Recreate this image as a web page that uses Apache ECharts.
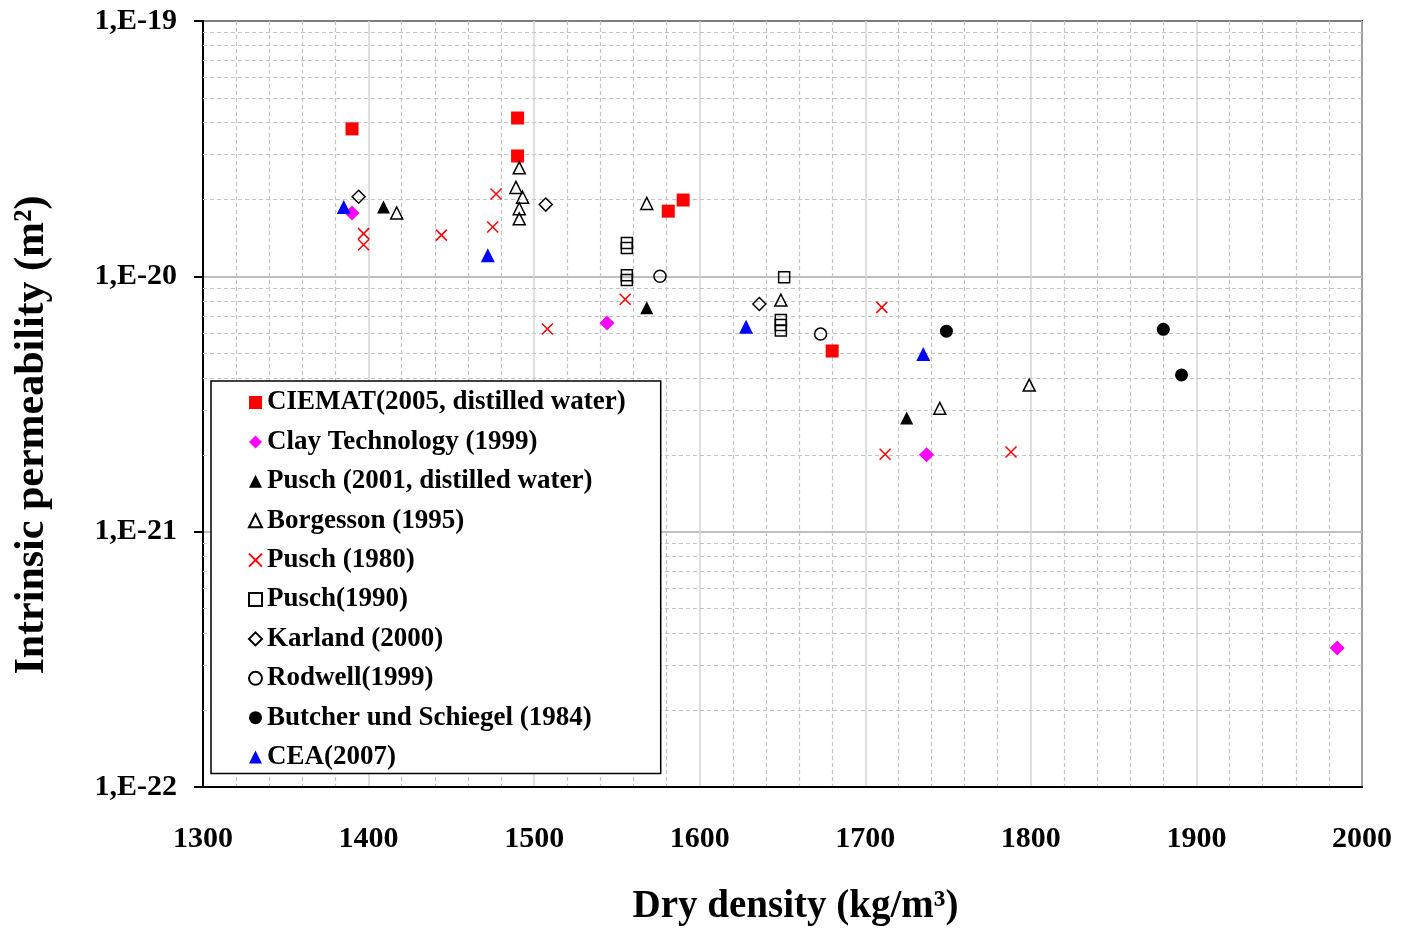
<!DOCTYPE html>
<html>
<head>
<meta charset="utf-8">
<script src="https://cdn.jsdelivr.net/npm/echarts@6/dist/echarts.min.js"></script>
<style>
html,body{margin:0;padding:0;background:#fff;}
#chart{width:1410px;height:929px;}
</style>
</head>
<body>
<div id="chart"></div>
<script>
// ---- Data: dry density (kg/m3), intrinsic permeability (m2) ----
const seriesNames = [
  'CIEMAT(2005, distilled water)',
  'Clay Technology (1999)',
  'Pusch (2001, distilled water)',
  'Borgesson (1995)',
  'Pusch (1980)',
  'Pusch(1990)',
  'Karland (2000)',
  'Rodwell(1999)',
  'Butcher und Schiegel (1984)',
  'CEA(2007)'
];
const ciematData = [[1390, 3.78e-20], [1490, 4.17e-20], [1490, 2.96e-20], [1581, 1.80e-20], [1590, 1.99e-20], [1680, 5.10e-21]];
const clayTechData = [[1390, 1.77e-20], [1544, 6.56e-21], [1737, 2.00e-21], [1985, 3.50e-22]];
const pusch2001Data = [[1409, 1.87e-20], [1568, 7.53e-21], [1725, 2.79e-21]];
const borgessonData = [[1417, 1.77e-20], [1491, 2.66e-20], [1489, 2.23e-20], [1493, 2.04e-20], [1491, 1.84e-20], [1491, 1.68e-20], [1568, 1.93e-20], [1649, 8.07e-21], [1799, 3.75e-21], [1745, 3.04e-21]];
const pusch1980Data = [[1477, 2.10e-20], [1475, 1.56e-20], [1444, 1.45e-20], [1397, 1.47e-20], [1397, 1.33e-20], [1508, 6.22e-21], [1555, 8.13e-21], [1710, 7.56e-21], [1712, 2.01e-21], [1788, 2.05e-21]];
const pusch1990Data = [[1556, 1.35e-20], [1556, 1.29e-20], [1556, 1.01e-20], [1556, 9.67e-21], [1651, 9.91e-21], [1649, 6.74e-21], [1649, 6.45e-21], [1649, 6.14e-21]];
const karlandData = [[1394, 2.05e-20], [1507, 1.91e-20], [1636, 7.79e-21]];
const rodwellData = [[1576, 1.00e-20], [1673, 5.94e-21]];
const butcherData = [[1749, 6.10e-21], [1880, 6.20e-21], [1891, 4.11e-21]];
const ceaData = [[1385, 1.87e-20], [1472, 1.21e-20], [1628, 6.35e-21], [1735, 4.96e-21]];

const xTicks = [1300, 1400, 1500, 1600, 1700, 1800, 1900, 2000];
const yTickLabels = ['1,E-22', '1,E-21', '1,E-20', '1,E-19'];

// The log axis is expressed in units of 1E-22 m2 (ECharts' log scale is unreliable at 1e-22 magnitudes)
const UNIT = 1e-22;
const UNIT_EXP = -22;
const toAxis = d => d.map(p => [p[0], p[1] / UNIT]);

// Excel-style minor log gridlines (2..9 x each decade)
const minorY = [];
[1, 10, 100].forEach(d => { for (let k = 2; k <= 9; k++) minorY.push(k * d); });

const FONT = '"Liberation Serif", "Times New Roman", serif';
const XPATH = 'path://M0,0L10,10M10,0L0,10';
const NOFILL = 'rgba(0,0,0,0)';

function mk(name, data, symbol, size, fill, stroke, bw) {
  return {
    name: name, type: 'scatter', data: toAxis(data), symbol: symbol, symbolSize: size,
    itemStyle: { color: fill, borderColor: stroke, borderWidth: bw, opacity: 1 },
    emphasis: { disabled: true }, z: 5
  };
}

const chart = echarts.init(document.getElementById('chart'));
chart.setOption({
  animation: false,
  backgroundColor: '#ffffff',
  grid: { left: 203, right: 48, top: 21, bottom: 142, show: true, borderColor: '#000', borderWidth: 2,
          containLabel: false, outerBoundsMode: 'none' },
  xAxis: {
    type: 'value', min: 1300, max: 2000, interval: 100,
    name: 'Dry density (kg/m\u00B3)', nameLocation: 'middle', nameGap: 100,
    nameTextStyle: { fontFamily: FONT, fontWeight: 'bold', fontSize: 39, color: '#000', padding: [0, 0, 0, 26] },
    axisLine: { show: true, onZero: false, lineStyle: { color: '#000', width: 2 } },
    axisTick: { show: false },
    axisLabel: { fontFamily: FONT, fontWeight: 'bold', fontSize: 30, color: '#000', margin: 37,
      formatter: v => xTicks.indexOf(v) >= 0 ? String(v) : '' },
    splitLine: { show: true, lineStyle: { color: '#d4d4d4', width: 1.5 } },
    minorTick: { show: false, splitNumber: 5 },
    minorSplitLine: { show: true, lineStyle: { color: '#c4c4c4', width: 1.2, type: [4, 3] } }
  },
  yAxis: {
    type: 'log', logBase: 10, min: 1, max: 1000,
    name: 'Intrinsic permeability (m\u00B2)', nameLocation: 'middle', nameGap: 150,
    nameTextStyle: { fontFamily: FONT, fontWeight: 'bold', fontSize: 42, color: '#000', padding: [0, 62, 0, 0] },
    axisLine: { show: true, lineStyle: { color: '#000', width: 2 } },
    axisTick: { show: true, inside: false, length: 9, lineStyle: { color: '#000', width: 2 } },
    axisLabel: { fontFamily: FONT, fontWeight: 'bold', fontSize: 30, color: '#000', margin: 26,
      formatter: v => { const e = Math.round(Math.log10(v)) + UNIT_EXP; const s = '1,E' + e; return yTickLabels.indexOf(s) >= 0 ? s : ''; } },
    splitLine: { show: true, lineStyle: { color: '#a8a8a8', width: 1.5 } }
  },
  legend: {
    orient: 'vertical', left: 211, top: 381, z: 20,
    data: seriesNames,
    itemWidth: 13, itemHeight: 13, itemGap: 12.4,
    padding: [8, 35, 3, 37],
    backgroundColor: '#fff', borderColor: '#000', borderWidth: 1.5,
    textStyle: { fontFamily: FONT, fontWeight: 'bold', fontSize: 27, lineHeight: 26, color: '#000' },
    selectedMode: false
  },
  series: [
    {
      name: 'minorGrid', type: 'scatter', data: [], z: 1, silent: true,
      markLine: {
        silent: true, symbol: 'none', label: { show: false }, animation: false, z: 1,
        lineStyle: { color: '#c4c4c4', width: 1.2, type: [4, 3] },
        emphasis: { disabled: true },
        data: minorY.map(v => ({ yAxis: v }))
      }
    },
    mk(seriesNames[0], ciematData, 'rect', 13, '#ff0000', '#ff0000', 0),
    mk(seriesNames[1], clayTechData, 'diamond', 15, '#ff00ff', '#ff00ff', 0),
    mk(seriesNames[2], pusch2001Data, 'triangle', 13, '#000000', '#000000', 0),
    mk(seriesNames[3], borgessonData, 'triangle', 12, NOFILL, '#000000', 1.5),
    mk(seriesNames[4], pusch1980Data, XPATH, 11, NOFILL, '#ff0000', 1.5),
    mk(seriesNames[5], pusch1990Data, 'rect', 11, NOFILL, '#000000', 1.5),
    mk(seriesNames[6], karlandData, 'diamond', 13, NOFILL, '#000000', 1.5),
    mk(seriesNames[7], rodwellData, 'circle', 12, NOFILL, '#000000', 1.5),
    mk(seriesNames[8], butcherData, 'circle', 13, '#000000', '#000000', 0),
    mk(seriesNames[9], ceaData, 'triangle', 14, '#0000ff', '#0000ff', 0)
  ]
});
</script>
</body>
</html>
